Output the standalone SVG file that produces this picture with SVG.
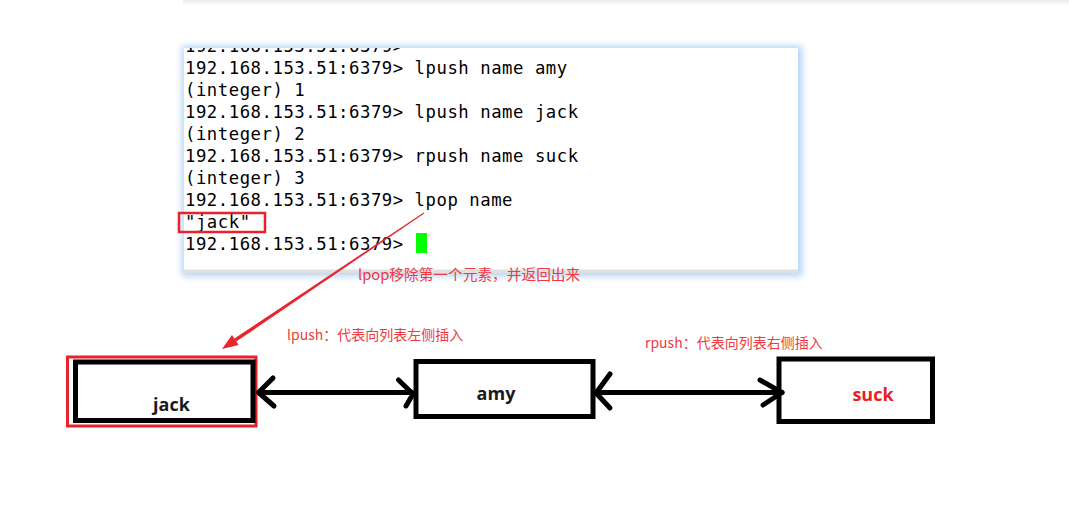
<svg xmlns="http://www.w3.org/2000/svg" width="1069" height="524" viewBox="0 0 1069 524">
<style>
.term{font-family:"DejaVu Sans Mono","Liberation Mono",monospace;font-size:17.3px;letter-spacing:0.53px;fill:#000}
.lbl{font-family:"Noto Sans CJK SC","Noto Sans",sans-serif;fill:#ee3a43}
.nodebox{fill:#fff;stroke:#000;stroke-width:5}
.nodetxt{font-family:"Open Sans","Liberation Sans",sans-serif;font-weight:bold;font-size:18px;text-anchor:middle}
.conn{fill:none;stroke:#000;stroke-width:5;stroke-linecap:round;stroke-linejoin:round}
</style>
<defs>
<filter id="glow" x="-10%" y="-10%" width="120%" height="120%">
<feGaussianBlur stdDeviation="3.5"/>
</filter>
<linearGradient id="topShade" x1="0" y1="0" x2="0" y2="1">
<stop offset="0" stop-color="#ececec"/>
<stop offset="1" stop-color="#ffffff"/>
</linearGradient>
<clipPath id="termClip">
<rect x="184" y="48" width="614" height="222"/>
</clipPath>
</defs>
<rect x="0" y="0" width="1069" height="524" fill="#fff"/>
<rect x="183" y="0" width="886" height="5" fill="url(#topShade)"/>

<g id="terminal">
<rect x="182" y="46" width="620" height="230" fill="#8fc0f5" opacity="0.7" filter="url(#glow)"/>
<rect x="184" y="48" width="614" height="222" fill="#fff"/>
<rect x="184" y="269.5" width="614" height="3.5" fill="#e0e0e0"/>
<g clip-path="url(#termClip)">
<text class="term" x="185" y="52">192.168.153.51:6379&gt;</text>
<text class="term" x="185" y="74">192.168.153.51:6379&gt; lpush name amy</text>
<text class="term" x="185" y="96">(integer) 1</text>
<text class="term" x="185" y="118">192.168.153.51:6379&gt; lpush name jack</text>
<text class="term" x="185" y="140">(integer) 2</text>
<text class="term" x="185" y="162">192.168.153.51:6379&gt; rpush name suck</text>
<text class="term" x="185" y="184">(integer) 3</text>
<text class="term" x="185" y="206">192.168.153.51:6379&gt; lpop name</text>
<text class="term" x="185" y="228">"jack"</text>
<text class="term" x="185" y="250">192.168.153.51:6379&gt; </text>
<rect x="416" y="233" width="11" height="20" fill="#00ff00"/>
</g>
<rect x="179" y="213" width="86" height="19" fill="none" stroke="#e8212b" stroke-width="2.5"/>
</g>

<g id="pop-arrow">
<polygon points="424.3,213.4 423.7,212.6 234.3,338.6 236.3,341.6" fill="#e8262d"/>
<polygon points="238.6,345.1 222,349 232,335.1" fill="#e8262d"/>
</g>

<g id="labels">
<text class="lbl" x="358" y="280" font-size="14.7">lpop移除第一个元素，并返回出来</text>
<text class="lbl" x="287" y="340" font-size="14">lpush：代表向列表左侧插入</text>
<text class="lbl" x="645" y="348" font-size="14">rpush：代表向列表右侧插入</text>
</g>

<g id="node-jack">
<rect x="67.5" y="357" width="188.5" height="69" fill="none" stroke="#e8212b" stroke-width="3"/>
<rect class="nodebox" x="75.5" y="362" width="177.5" height="58.5"/>
<text class="nodetxt" x="171.5" y="410.5" fill="#1a1a1a">jack</text>
</g>

<g id="node-amy">
<rect class="nodebox" x="416" y="361.5" width="177" height="55"/>
<text class="nodetxt" x="496" y="400" fill="#1a1a1a">amy</text>
</g>

<g id="node-suck">
<rect class="nodebox" x="779" y="359" width="153.5" height="62.5"/>
<text class="nodetxt" x="873" y="400.5" fill="#ee1c25">suck</text>
</g>

<g id="connectors">
<path class="conn" d="M259,392.5 L412,392.5"/>
<path class="conn" d="M273,378 L258.5,392.5 L274,406"/>
<path class="conn" d="M398.5,380 L413,394 L406,406"/>
<path class="conn" d="M596,392.5 L782,392.5"/>
<path class="conn" d="M610,374 L596,393 L610,408"/>
<path class="conn" d="M760,380 L782,392.5 L763,405"/>
</g>
</svg>
